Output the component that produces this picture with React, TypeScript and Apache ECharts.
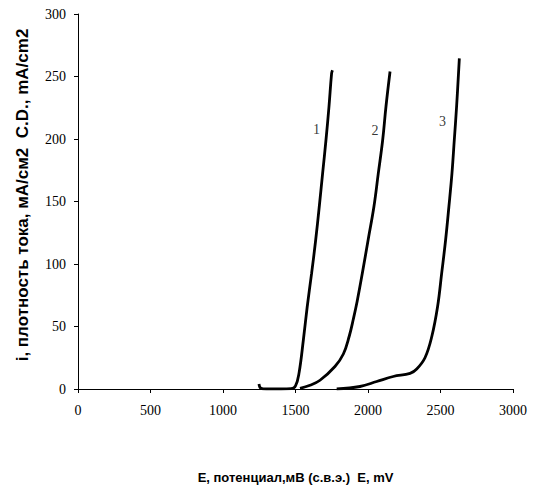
import React, { useEffect, useRef } from "react";
import * as echarts from "echarts";

const xTicks = [0, 500, 1000, 1500, 2000, 2500, 3000];
const yTicks = [0, 50, 100, 150, 200, 250, 300];

const curve1: [number, number][] = [
  [1248, 4], [1262, 0.5], [1300, 0], [1400, 0], [1470, 0.3], [1500, 2.5],
  [1524, 12.5], [1554, 39], [1581, 66], [1611, 92.5], [1639, 119], [1664, 146],
  [1687, 172.5], [1710, 199], [1731, 226], [1749, 252.5], [1755, 255],
];

const curve2: [number, number][] = [
  [1531, 0.5], [1600, 3], [1669, 7], [1772, 18], [1830, 28], [1870, 42],
  [1899, 56], [1925, 70], [1963, 94], [2002, 120], [2041, 146], [2071, 172.5],
  [2101, 199], [2124, 226], [2152, 254],
];

const curve3: [number, number][] = [
  [1784, 0], [1945, 2], [2060, 6], [2174, 10], [2290, 12.5], [2336, 16],
  [2393, 25], [2440, 42], [2480, 66], [2508, 92.5], [2535, 119], [2558, 146],
  [2579, 172.5], [2595, 199], [2611, 226], [2630, 264.5],
];

const curveLabels: [number, number, string][] = [
  [1645, 208, "1"],
  [2048, 207, "2"],
  [2514, 214, "3"],
];

const xTitle = "E, потенциал,мВ (с.в.э.)  E, mV";
const yTitle = "i, плотность тока, мА/см2  C.D., mA/cm2";

const serif = "Liberation Serif";
const sans = "Liberation Sans";

export default function App() {
  const ref = useRef<HTMLDivElement>(null);
  useEffect(() => {
    if (!ref.current) return;
    const chart = echarts.init(ref.current, undefined, { renderer: "svg" });
    const lineSeries = (data: [number, number][]) => ({
      type: "line",
      data,
      smooth: 0.4,
      showSymbol: false,
      symbol: "none",
      lineStyle: { color: "#000", width: 2.8 },
    });
    chart.setOption({
      animation: false,
      backgroundColor: "#fff",
      textStyle: { fontFamily: serif, color: "#000" },
      grid: { left: 78, right: 21, top: 14, bottom: 101, containLabel: false },
      graphic: [
        {
          type: "text",
          x: 22,
          y: 195,
          rotation: Math.PI / 2,
          style: {
            text: yTitle,
            align: "center",
            verticalAlign: "middle",
            fontFamily: sans,
            fontWeight: "bold",
            fontSize: 17,
            fill: "#000",
          },
        },
      ],
      xAxis: {
        type: "value",
        min: xTicks[0],
        max: xTicks[xTicks.length - 1],
        interval: 500,
        name: xTitle,
        nameLocation: "middle",
        nameGap: 82,
        nameTextStyle: {
          fontFamily: sans,
          fontWeight: "bold",
          fontSize: 13,
          color: "#000",
          verticalAlign: "top",
        },
        axisLine: { lineStyle: { color: "#000", width: 1 } },
        axisTick: { show: true, length: 4, lineStyle: { color: "#000" } },
        axisLabel: {
          fontFamily: serif,
          fontSize: 14,
          color: "#000",
          margin: 14,
          formatter: (v: number) => String(v),
        },
        splitLine: { show: false },
      },
      yAxis: {
        type: "value",
        min: yTicks[0],
        max: yTicks[yTicks.length - 1],
        interval: 50,
        axisLine: { show: true, lineStyle: { color: "#000", width: 1 } },
        axisTick: { show: true, length: 4, lineStyle: { color: "#000" } },
        axisLabel: {
          fontFamily: serif,
          fontSize: 14,
          color: "#000",
          margin: 12,
          formatter: (v: number) => String(v),
        },
        splitLine: { show: false },
      },
      series: [
        lineSeries(curve1),
        lineSeries(curve2),
        lineSeries(curve3),
        {
          type: "scatter",
          symbolSize: 0,
          data: curveLabels.map((d) => ({ value: [d[0], d[1]], name: d[2] })),
          label: {
            show: true,
            position: "inside",
            formatter: (p: any) => p.name,
            fontFamily: serif,
            fontSize: 14,
            color: "#000",
            textBorderWidth: 0,
          },
        },
      ],
    });
    return () => chart.dispose();
  }, []);
  return (
    <div
      ref={ref}
      style={{ position: "fixed", left: 0, top: 0, width: 534, height: 490 }}
    />
  );
}
